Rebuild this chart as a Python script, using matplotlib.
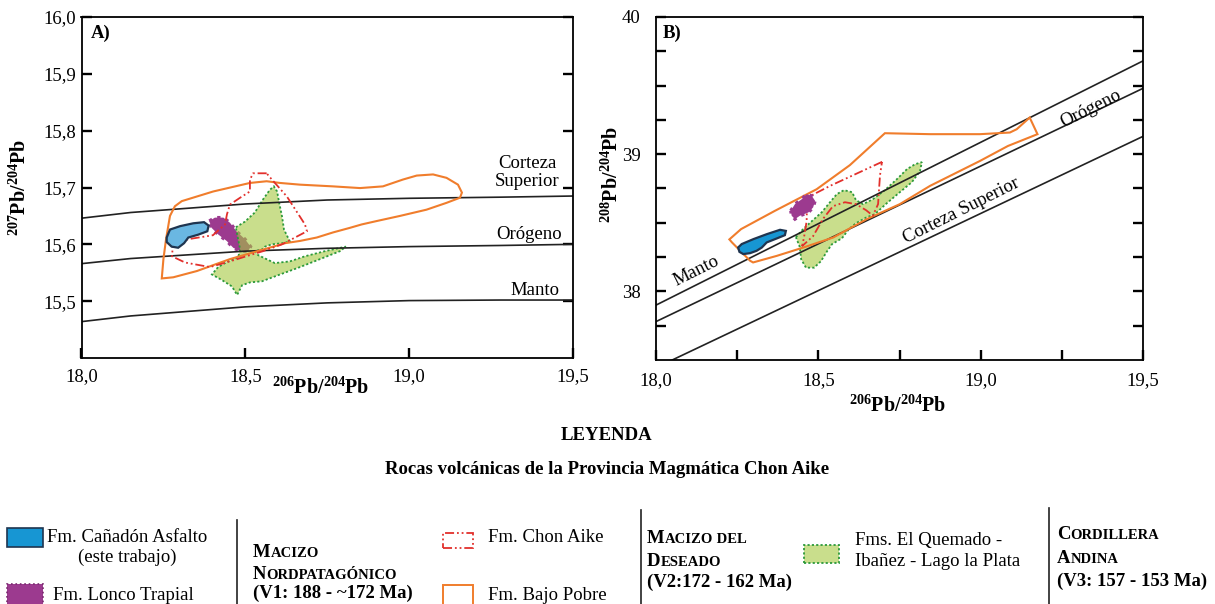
import matplotlib
matplotlib.use('Agg')
import matplotlib.pyplot as plt
from matplotlib.patches import Polygon, Rectangle
from matplotlib.lines import Line2D
from matplotlib.ticker import FixedLocator, FuncFormatter

plt.rcParams['font.family'] = ['Liberation Serif', 'DejaVu Serif']
plt.rcParams['mathtext.fontset'] = 'custom'
plt.rcParams['mathtext.rm'] = 'Liberation Serif:bold'
plt.rcParams['mathtext.bf'] = 'Liberation Serif:bold'
plt.rcParams['mathtext.it'] = 'Liberation Serif:bold:italic'

# ---------------- data: panel A (207Pb/204Pb vs 206Pb/204Pb) ----------------
A_curve_x = [18.0, 18.15, 18.5, 18.75, 19.0, 19.28, 19.5]
A_crust_y = [15.646, 15.656, 15.671, 15.678, 15.681, 15.683, 15.685]
A_orogen_y = [15.566, 15.575, 15.588, 15.593, 15.596, 15.598, 15.600]
A_mantle_y = [15.464, 15.474, 15.490, 15.497, 15.501, 15.502, 15.502]

A_blue_x = [18.260, 18.270, 18.301, 18.341, 18.374, 18.388, 18.384, 18.356, 18.326, 18.313, 18.295, 18.275, 18.260]
A_blue_y = [15.612, 15.626, 15.632, 15.637, 15.639, 15.633, 15.623, 15.617, 15.612, 15.602, 15.594, 15.596, 15.604]

A_purple_x = [18.390, 18.407, 18.433, 18.453, 18.473, 18.499, 18.516, 18.509, 18.484, 18.463, 18.443, 18.418, 18.397]
A_purple_y = [15.641, 15.647, 15.647, 15.638, 15.623, 15.609, 15.596, 15.588, 15.588, 15.594, 15.606, 15.617, 15.629]

A_green_x = [18.471, 18.499, 18.529, 18.554, 18.575, 18.587, 18.597, 18.603, 18.612, 18.618, 18.630, 18.636,
             18.612, 18.581, 18.560, 18.551, 18.529, 18.539, 18.590, 18.636, 18.682, 18.743, 18.807,
             18.789, 18.728, 18.667, 18.606, 18.551, 18.514, 18.490, 18.475, 18.459, 18.429, 18.398,
             18.417, 18.447, 18.478, 18.484, 18.478]
A_green_y = [15.630, 15.640, 15.656, 15.679, 15.696, 15.702, 15.693, 15.674, 15.649, 15.626, 15.612, 15.605,
             15.602, 15.600, 15.596, 15.591, 15.588, 15.581, 15.567, 15.570, 15.579, 15.588, 15.596,
             15.588, 15.574, 15.560, 15.547, 15.535, 15.533, 15.528, 15.511, 15.526, 15.537, 15.547,
             15.560, 15.570, 15.577, 15.591, 15.609]

A_orange_x = [18.245, 18.250, 18.258, 18.270, 18.285, 18.306, 18.402, 18.514, 18.565, 18.606, 18.667, 18.767,
              18.850, 18.920, 18.981, 19.023, 19.073, 19.114, 19.149, 19.161, 19.155, 19.114, 19.053, 18.972,
              18.901, 18.855, 18.819, 18.768, 18.718, 18.667, 18.621, 18.555, 18.453, 18.352, 18.280]
A_orange_y = [15.540, 15.574, 15.609, 15.650, 15.667, 15.676, 15.693, 15.708, 15.711, 15.708, 15.705, 15.702,
              15.699, 15.702, 15.714, 15.721, 15.723, 15.717, 15.705, 15.691, 15.682, 15.673, 15.661, 15.650,
              15.641, 15.635, 15.629, 15.621, 15.612, 15.606, 15.602, 15.591, 15.574, 15.553, 15.542]

A_red_x = [18.565, 18.524, 18.514, 18.514, 18.484, 18.453, 18.444, 18.438, 18.401, 18.325, 18.279, 18.276,
           18.316, 18.392, 18.453, 18.514, 18.554, 18.612, 18.688, 18.682, 18.627, 18.575]
A_red_y = [15.725, 15.725, 15.714, 15.693, 15.682, 15.670, 15.653, 15.635, 15.616, 15.609, 15.598, 15.579,
           15.568, 15.560, 15.570, 15.581, 15.588, 15.600, 15.623, 15.635, 15.684, 15.718]

# ---------------- data: panel B (208Pb/204Pb vs 206Pb/204Pb) ----------------
B_mantle_x = [18.0, 19.5]
B_mantle_y = [37.90, 39.68]
B_orogen_x = [18.0, 19.5]
B_orogen_y = [37.78, 39.48]
B_crust_x = [18.05, 19.5]
B_crust_y = [37.50, 39.13]

B_blue_x = [18.253, 18.264, 18.300, 18.341, 18.382, 18.400, 18.397, 18.372, 18.341, 18.326, 18.310, 18.290, 18.269, 18.257]
B_blue_y = [38.320, 38.345, 38.381, 38.417, 38.449, 38.441, 38.410, 38.386, 38.357, 38.320, 38.296, 38.279, 38.272, 38.288]

B_purple_x = [18.415, 18.428, 18.449, 18.464, 18.480, 18.490, 18.484, 18.469, 18.443, 18.428, 18.418]
B_purple_y = [38.587, 38.636, 38.672, 38.709, 38.696, 38.660, 38.612, 38.575, 38.551, 38.527, 38.551]

B_orange_x = [18.226, 18.262, 18.366, 18.495, 18.597, 18.705, 18.844, 18.998, 19.090, 19.111, 19.151, 19.175,
              19.084, 18.998, 18.844, 18.751, 18.649, 18.546, 18.454, 18.372, 18.299, 18.290, 18.234]
B_orange_y = [38.379, 38.454, 38.587, 38.745, 38.920, 39.153, 39.146, 39.146, 39.158, 39.182, 39.267, 39.146,
              39.060, 38.951, 38.769, 38.636, 38.527, 38.393, 38.320, 38.259, 38.211, 38.223, 38.357]

B_red_x = [18.696, 18.536, 18.480, 18.465, 18.464, 18.456, 18.450, 18.484, 18.514, 18.545, 18.582, 18.616,
           18.647, 18.668, 18.684, 18.687, 18.690]
B_red_y = [38.944, 38.769, 38.701, 38.636, 38.512, 38.395, 38.330, 38.403, 38.527, 38.621, 38.650, 38.636,
           38.592, 38.552, 38.636, 38.745, 38.847]

B_green_x = [18.431, 18.453, 18.480, 18.511, 18.536, 18.557, 18.579, 18.604, 18.616, 18.638, 18.668, 18.705,
             18.742, 18.773, 18.798, 18.819, 18.813, 18.788, 18.751, 18.711, 18.674, 18.647, 18.616, 18.594,
             18.573, 18.542, 18.527, 18.508, 18.487, 18.462, 18.447, 18.443]
B_green_y = [38.395, 38.454, 38.512, 38.578, 38.650, 38.709, 38.738, 38.723, 38.665, 38.636, 38.672, 38.738,
             38.818, 38.891, 38.927, 38.942, 38.876, 38.796, 38.723, 38.643, 38.563, 38.538, 38.497, 38.454,
             38.388, 38.344, 38.293, 38.220, 38.173, 38.173, 38.235, 38.323]

A_xticks = [18.0, 18.5, 19.0, 19.5]
A_yticks = [15.5, 15.6, 15.7, 15.8, 15.9, 16.0]
B_xticks = [18.0, 18.5, 19.0, 19.5]
B_xminor = [18.25, 18.75, 19.25]
B_yticks = [38, 39, 40]
B_yminor = [37.75, 38.25, 38.5, 38.75, 39.25, 39.5, 39.75]

# ---------------- styles ----------------
C_BLUE_A = '#6ab7e2'
C_BLUE_B = '#1796d3'
C_BLUE_EDGE = '#1f3550'
C_PURPLE = '#9c3a8f'
C_GREEN_FILL = '#a6c93f'
C_GREEN_EDGE = '#2c9a3b'
C_ORANGE = '#f07d2c'
C_RED = '#e2302c'
RED_LS = (0, (5, 1.6, 1, 1.6, 1, 1.6))

W, H = 1215, 604
fig = plt.figure(figsize=(W / 100, H / 100), dpi=100)
axA = fig.add_axes([81.5 / W, 1 - 358 / H, 491.5 / W, 341 / H])
axB = fig.add_axes([656 / W, 1 - 360 / H, 487 / W, 343 / H])


def style_axes(ax):
    for s in ax.spines.values():
        s.set_linewidth(1.3)
    ax.tick_params(which='both', direction='in', length=7, width=1.7, top=False, right=True,
                   left=True, bottom=True, labelsize=13.5, colors='black')


def poly(ax, xs, ys, **kw):
    ax.add_patch(Polygon(list(zip(xs, ys)), closed=True, **kw))


# ---------- panel A ----------
style_axes(axA)
axA.set_xlim(18.0, 19.5)
axA.set_ylim(15.4, 16.0)
axA.xaxis.set_major_locator(FixedLocator(A_xticks))
axA.yaxis.set_major_locator(FixedLocator(A_yticks))
fmt1 = FuncFormatter(lambda v, p: f'{v:.1f}'.replace('.', ','))
axA.xaxis.set_major_formatter(fmt1)
axA.yaxis.set_major_formatter(fmt1)
axA.tick_params(axis='x', pad=7)
axA.tick_params(axis='y', pad=4)

for yy in (A_crust_y, A_orogen_y, A_mantle_y):
    axA.plot(A_curve_x, yy, color='#222222', lw=1.2, zorder=2.5)

poly(axA, A_purple_x, A_purple_y, facecolor=C_PURPLE, edgecolor=C_PURPLE, lw=2.4, ls=':', zorder=2)
poly(axA, A_green_x, A_green_y, facecolor=C_GREEN_FILL, alpha=0.6, edgecolor='none', zorder=2.2)
poly(axA, A_green_x, A_green_y, facecolor='none', edgecolor=C_GREEN_EDGE, lw=1.3, ls=(0, (1.2, 1.2)), zorder=2.3)
poly(axA, A_orange_x, A_orange_y, facecolor='none', edgecolor=C_ORANGE, lw=1.5, zorder=3)
poly(axA, A_red_x, A_red_y, facecolor='none', edgecolor=C_RED, lw=1.3, ls=RED_LS, zorder=3)
poly(axA, A_blue_x, A_blue_y, facecolor=C_BLUE_A, edgecolor=C_BLUE_EDGE, lw=1.6, zorder=4)

axA.text(0.018, 0.953, 'A)', transform=axA.transAxes, fontsize=13.5, fontweight='bold', ha='left', va='center')
axA.text(19.36, 15.726, 'Corteza\nSuperior', fontsize=13.5, ha='center', va='center', linespacing=1.05)
axA.text(19.465, 15.618, 'Orógeno', fontsize=13.5, ha='right', va='center')
axA.text(19.46, 15.519, 'Manto', fontsize=13.5, ha='right', va='center')

axA.set_xlabel(r'$^{206}$Pb/$^{204}$Pb', fontsize=14.5, fontweight='bold')
axA.xaxis.set_label_coords(0.487, -0.09)
axA.xaxis.label.set_va('center')
axA.set_ylabel(r'$^{207}$Pb/$^{204}$Pb', fontsize=14.5, fontweight='bold')
axA.yaxis.set_label_coords(-0.125, 0.5)
axA.yaxis.label.set_va('center')

# ---------- panel B ----------
style_axes(axB)
axB.set_xlim(18.0, 19.5)
axB.set_ylim(37.5, 40.0)
axB.xaxis.set_major_locator(FixedLocator(B_xticks))
axB.xaxis.set_minor_locator(FixedLocator(B_xminor))
axB.yaxis.set_major_locator(FixedLocator(B_yticks))
axB.yaxis.set_minor_locator(FixedLocator(B_yminor))
axB.xaxis.set_major_formatter(fmt1)
axB.yaxis.set_major_formatter(FuncFormatter(lambda v, p: f'{v:.0f}'))
axB.tick_params(axis='x', pad=9)
axB.tick_params(axis='y', pad=11)

for xx, yy in ((B_mantle_x, B_mantle_y), (B_orogen_x, B_orogen_y), (B_crust_x, B_crust_y)):
    axB.plot(xx, yy, color='#222222', lw=1.2, zorder=2.5)

poly(axB, B_green_x, B_green_y, facecolor=C_GREEN_FILL, alpha=0.6, edgecolor='none', zorder=2.2)
poly(axB, B_green_x, B_green_y, facecolor='none', edgecolor=C_GREEN_EDGE, lw=1.3, ls=(0, (1.2, 1.2)), zorder=2.3)
poly(axB, B_orange_x, B_orange_y, facecolor='none', edgecolor=C_ORANGE, lw=1.5, zorder=3)
poly(axB, B_red_x, B_red_y, facecolor='none', edgecolor=C_RED, lw=1.3, ls=RED_LS, zorder=3)
poly(axB, B_purple_x, B_purple_y, facecolor=C_PURPLE, edgecolor=C_PURPLE, lw=2.4, ls=':', zorder=3.5)
poly(axB, B_blue_x, B_blue_y, facecolor=C_BLUE_B, edgecolor=C_BLUE_EDGE, lw=1.6, zorder=4)

axB.text(0.014, 0.953, 'B)', transform=axB.transAxes, fontsize=13.5, fontweight='bold', ha='left', va='center')
for txt, x, y in (('Manto', 18.125, 38.15), ('Orógeno', 19.34, 39.33), ('Corteza Superior', 18.94, 38.59)):
    axB.text(x, y, txt, fontsize=13.5, ha='center', va='center', rotation=26.6, rotation_mode='anchor')

axB.set_xlabel(r'$^{206}$Pb/$^{204}$Pb', fontsize=14.5, fontweight='bold')
axB.xaxis.set_label_coords(0.497, -0.134)
axB.xaxis.label.set_va('center')
axB.set_ylabel(r'$^{208}$Pb/$^{204}$Pb', fontsize=14.5, fontweight='bold')
axB.yaxis.set_label_coords(-0.09, 0.54)
axB.yaxis.label.set_va('center')

# ---------- legend area ----------
def fx(px):
    return px / W


def fy(py):
    return 1 - py / H


fig.text(fx(607), fy(436), 'LEYENDA', fontsize=13.5, fontweight='bold', ha='center', va='center')
fig.text(fx(607), fy(469), 'Rocas volcánicas de la Provincia Magmática Chon Aike', fontsize=13.5,
         fontweight='bold', ha='center', va='center')

for x, y0, y1 in ((236.5, 520, 604), (641, 510, 604), (1049, 508, 604)):
    fig.add_artist(Line2D([fx(x), fx(x)], [fy(y0), fy(y1)], color='#222222', lw=1.2))


def lpatch(x0, y0, x1, y1, **kw):
    fig.add_artist(Rectangle((fx(x0), fy(y1)), fx(x1) - fx(x0), fy(y0) - fy(y1), transform=fig.transFigure, **kw))


lpatch(7, 528, 43, 547, facecolor=C_BLUE_B, edgecolor=C_BLUE_EDGE, lw=1.2)
lpatch(7, 584, 43, 606, facecolor=C_PURPLE, edgecolor='#7a2a70', lw=1.2, ls=':')
lpatch(443, 533, 473, 548, facecolor='white', edgecolor=C_RED, lw=1.3, ls=RED_LS)
lpatch(443, 585, 473, 606, facecolor='white', edgecolor=C_ORANGE, lw=1.4)
lpatch(804, 545, 839, 563, facecolor='#c9de8c', edgecolor=C_GREEN_EDGE, lw=1.3, ls=(0, (1.2, 1.2)))

LFS = 13.5
fig.text(fx(127), fy(537), 'Fm. Cañadón Asfalto', fontsize=LFS, ha='center', va='center')
fig.text(fx(127), fy(557), '(este trabajo)', fontsize=LFS, ha='center', va='center')
fig.text(fx(123), fy(596), 'Fm. Lonco Trapial', fontsize=LFS, ha='center', va='center')
fig.text(fx(488), fy(538), 'Fm. Chon Aike', fontsize=LFS, ha='left', va='center')
fig.text(fx(488), fy(596), 'Fm. Bajo Pobre', fontsize=LFS, ha='left', va='center')
fig.text(fx(855), fy(540), 'Fms. El Quemado -', fontsize=LFS, ha='left', va='center')
fig.text(fx(855), fy(561), 'Ibañez - Lago la Plata', fontsize=LFS, ha='left', va='center')

fig.canvas.draw()
renderer = fig.canvas.get_renderer()


def smallcaps(xpx, ybase, parts, big=13.5, small=10.5):
    cur = fx(xpx)
    for txt, isbig in parts:
        t = fig.text(cur, fy(ybase), txt, fontsize=big if isbig else small, fontweight='bold',
                     ha='left', va='baseline')
        bb = t.get_window_extent(renderer)
        cur += bb.width / W


smallcaps(253, 557, [('M', True), ('ACIZO', False)])
smallcaps(253, 579, [('N', True), ('ORDPATAGÓNICO', False)])
fig.text(fx(253), fy(593), '(V1: 188 - ~172 Ma)', fontsize=LFS, fontweight='bold', ha='left', va='center')

smallcaps(647, 543, [('M', True), ('ACIZO', False), (' DEL', False)])
smallcaps(647, 566, [('D', True), ('ESEADO', False)])
fig.text(fx(647), fy(582), '(V2:172 - 162 Ma)', fontsize=LFS, fontweight='bold', ha='left', va='center')

smallcaps(1057, 539, [('C', True), ('ORDILLERA', False)])
smallcaps(1057, 563, [('A', True), ('NDINA', False)])
fig.text(fx(1057), fy(581), '(V3: 157 - 153 Ma)', fontsize=LFS, fontweight='bold', ha='left', va='center')

fig.savefig('out.png', dpi=100)
